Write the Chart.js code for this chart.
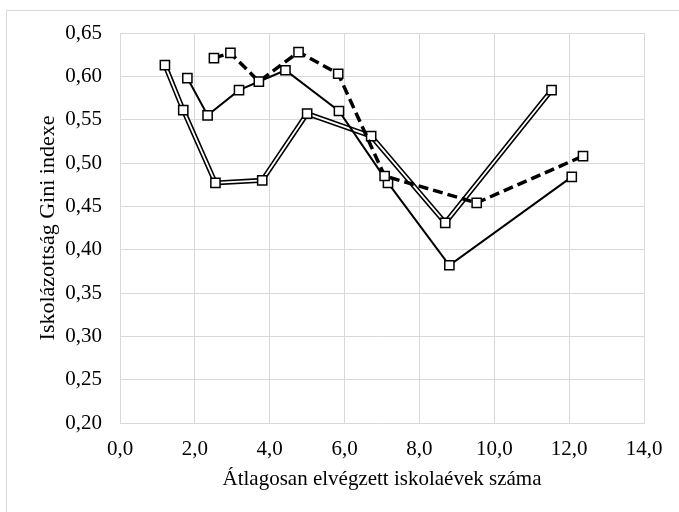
<!DOCTYPE html>
<html>
<head>
<meta charset="utf-8">
<script src="https://cdn.jsdelivr.net/npm/chart.js@4/dist/chart.umd.min.js"></script>
<style>
  html, body { margin: 0; padding: 0; background: #fff; }
  #wrap { width: 679px; height: 512px; position: relative; }
</style>
</head>
<body>
<div id="wrap"><canvas id="c" width="679" height="512"></canvas></div>
<script>
// ---- data ----
const doubleX = [1.20, 1.69, 2.55, 3.80, 5.00, 6.71, 8.69, 11.53];
const doubleY = [0.613, 0.561, 0.477, 0.480, 0.557, 0.531, 0.431, 0.584];

const solidX = [1.80, 2.34, 3.18, 4.42, 5.85, 7.16, 8.80, 12.07];
const solidY = [0.598, 0.555, 0.584, 0.607, 0.560, 0.477, 0.382, 0.484];

const dashedX = [2.51, 2.95, 3.71, 4.77, 5.83, 7.07, 9.53, 12.37];
const dashedY = [0.621, 0.627, 0.594, 0.628, 0.603, 0.485, 0.454, 0.508];

const xTickValues = [0, 2, 4, 6, 8, 10, 12, 14];
const yTickValues = [0.20, 0.25, 0.30, 0.35, 0.40, 0.45, 0.50, 0.55, 0.60, 0.65];

const xTitle = 'Átlagosan elvégzett iskolaévek száma';
const yTitle = 'Iskolázottság Gini indexe';

const pts = (xs, ys) => xs.map((x, i) => ({ x: x, y: ys[i] }));
const FONT = 'Liberation Serif, Times New Roman, serif';
const GRID = '#d9d9d9';

const outerFrame = {
  id: 'outerFrame',
  beforeDraw(chart) {
    const ctx = chart.ctx;
    ctx.save();
    ctx.strokeStyle = GRID;
    ctx.lineWidth = 1;
    ctx.strokeRect(6.5, 10.5, 800, 800);
    ctx.restore();
  }
};

new Chart(document.getElementById('c'), {
  type: 'line',
  data: {
    datasets: [
      { label: 'double-outer', data: pts(doubleX, doubleY), borderColor: '#000', borderWidth: 5,
        pointRadius: 0, fill: false, tension: 0, order: 5 },
      { label: 'double', data: pts(doubleX, doubleY), borderColor: '#fff', borderWidth: 1.8,
        pointStyle: 'rect', pointRadius: 6.5, pointBackgroundColor: '#fff', pointBorderColor: '#000',
        pointBorderWidth: 1.5, fill: false, tension: 0, order: 4 },
      { label: 'solid', data: pts(solidX, solidY), borderColor: '#000', borderWidth: 2,
        pointStyle: 'rect', pointRadius: 6.5, pointBackgroundColor: '#fff', pointBorderColor: '#000',
        pointBorderWidth: 1.5, fill: false, tension: 0, order: 3 },
      { label: 'dashed', data: pts(dashedX, dashedY), borderColor: '#000', borderWidth: 3.5,
        borderDash: [10, 5], pointStyle: 'rect', pointRadius: 6.5, pointBackgroundColor: '#fff',
        pointBorderColor: '#000', pointBorderWidth: 1.5, fill: false, tension: 0, order: 2 }
    ]
  },
  options: {
    responsive: false,
    animation: false,
    devicePixelRatio: 1,
    layout: { padding: { left: 0, top: 33, right: 35, bottom: 0 } },
    plugins: { legend: { display: false }, tooltip: { enabled: false } },
    scales: {
      x: {
        type: 'linear', min: 0, max: 14,
        afterBuildTicks: (s) => { s.ticks = xTickValues.map(v => ({ value: v })); },
        afterFit: (s) => { s.height = 89; },
        ticks: { padding: 14, color: '#000', font: { family: FONT, size: 21 },
                 callback: (v) => Number(v).toFixed(1).replace('.', ',') },
        grid: { color: GRID, lineWidth: 1, drawTicks: false },
        border: { color: GRID },
        title: { display: true, text: xTitle, color: '#000', font: { family: FONT, size: 21 },
                 padding: { top: 0, bottom: 20 } }
      },
      y: {
        type: 'linear', min: 0.20, max: 0.65,
        afterBuildTicks: (s) => { s.ticks = yTickValues.map(v => ({ value: v })); },
        afterFit: (s) => { s.width = 120; },
        ticks: { padding: 18, color: '#000', font: { family: FONT, size: 21 },
                 callback: (v) => Number(v).toFixed(2).replace('.', ',') },
        grid: { color: GRID, lineWidth: 1, drawTicks: false },
        border: { color: GRID },
        title: { display: true, text: yTitle, color: '#000', font: { family: FONT, size: 22 },
                 padding: { top: 35, bottom: 0 } }
      }
    }
  },
  plugins: [outerFrame]
});
</script>
</body>
</html>
